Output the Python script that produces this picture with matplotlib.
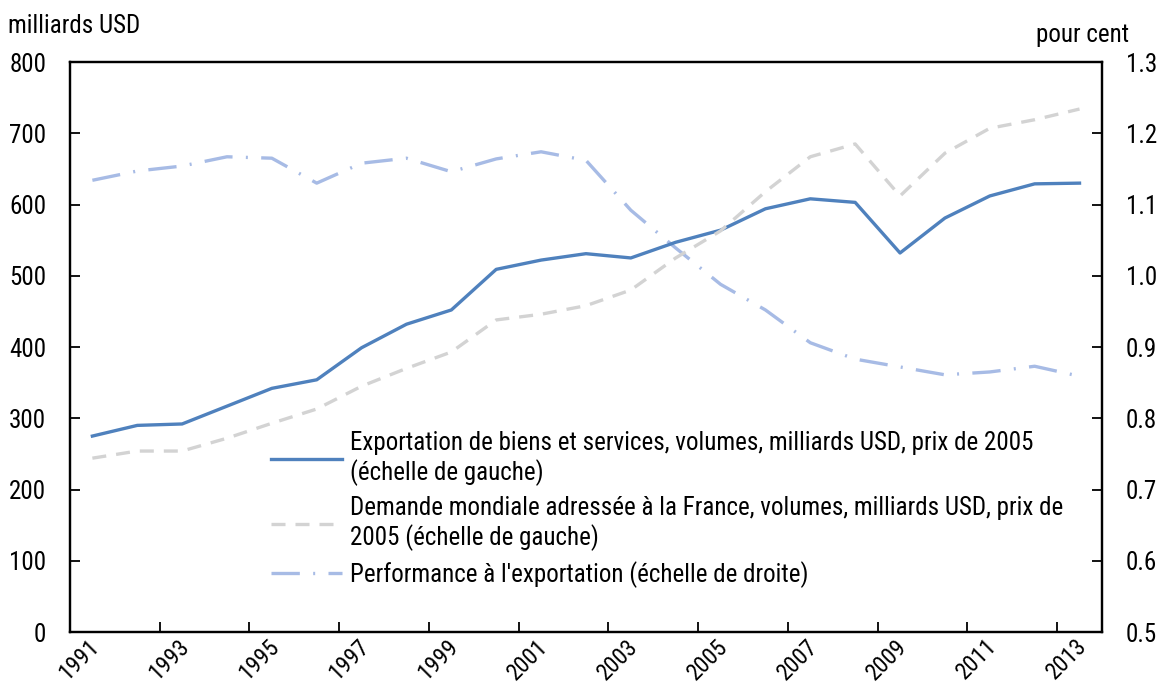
import matplotlib.pyplot as plt
import numpy as np

plt.rcParams['font.family'] = ['Roboto Condensed', 'Liberation Sans', 'DejaVu Sans']

years = list(range(1991, 2014))
exports = [275, 290, 292, 317, 342, 354, 399, 432, 452, 509, 522, 531, 525,
           547, 564, 594, 608, 603, 532, 581, 612, 629, 630]
demande = [244, 254, 254, 272, 293, 313, 345, 370, 393, 438, 446, 458, 480,
           525, 563, 618, 667, 685, 612, 672, 707, 719, 734]
perf = [1.134, 1.147, 1.154, 1.167, 1.165, 1.130, 1.158, 1.165, 1.146, 1.164,
        1.174, 1.162, 1.092, 1.039, 0.988, 0.952, 0.906, 0.883, 0.872, 0.861,
        0.865, 0.873, 0.859]

lab_exp = "Exportation de biens et services, volumes, milliards USD, prix de 2005\n(échelle de gauche)"
lab_dem = "Demande mondiale adressée à la France, volumes, milliards USD, prix de\n2005 (échelle de gauche)"
lab_perf = "Performance à l'exportation (échelle de droite)"

c_exp = '#4F81BD'
c_dem = '#D3D3D3'
c_perf = '#A7BBE5'
fs = 18

fig = plt.figure(figsize=(11.58, 6.89), dpi=100)
ax = fig.add_axes([0.0604, 0.0827, 0.8912, 0.8273])
ax2 = ax.twinx()

x = np.arange(len(years)) + 0.5
l1, = ax.plot(x, exports, color=c_exp, lw=2.4)
l2, = ax.plot(x, demande, color=c_dem, lw=2.4, dashes=(4.2, 3))
l3, = ax2.plot(x, perf, color=c_perf, lw=2.4, dashes=(8.5, 4, 0.6, 4))
ax.set_zorder(ax2.get_zorder() + 1)
ax.patch.set_visible(False)

ax.set_xlim(0, len(years))
ax.set_ylim(0, 800)
ax.set_yticks(range(0, 801, 100))
ax2.set_ylim(0.5, 1.3)
ax2.set_yticks(np.arange(0.5, 1.31, 0.1))
ax2.set_yticklabels(['%.1f' % v for v in np.arange(0.5, 1.31, 0.1)])

# ticks on category edges, labels under every other year
ax.set_xticks(np.arange(0, len(years), 2))
ax.set_xticklabels([])
ax.set_xticks(x[::2] - 0.1, minor=True)
ax.set_xticklabels([str(y) for y in years[::2]], minor=True, rotation=45,
                   ha='right', va='top', rotation_mode='anchor')
ax.tick_params(axis='x', which='minor', length=0, pad=2, labelsize=17)
ax.tick_params(axis='x', which='major', direction='in', length=7, width=1.3)
ax.tick_params(axis='y', direction='in', length=7, width=1.3, labelsize=fs, pad=17)
ax2.tick_params(axis='y', direction='in', length=7, width=1.3, labelsize=fs, pad=17)

for a in (ax, ax2):
    for s in ('left', 'bottom', 'right', 'top'):
        a.spines[s].set_linewidth(1.6)

fig.text(0.007, 0.962, 'milliards USD', fontsize=fs, va='center')
fig.text(0.975, 0.949, 'pour cent', fontsize=fs, va='center', ha='right')

leg = ax.legend([l1, l2, l3], [lab_exp, lab_dem, lab_perf], loc='upper left',
                bbox_to_anchor=(0.185, 0.37), frameon=False, fontsize=fs,
                handlelength=2.85, handletextpad=0.3, labelspacing=0.4,
                borderaxespad=0)

fig.savefig('out.png', dpi=100)
